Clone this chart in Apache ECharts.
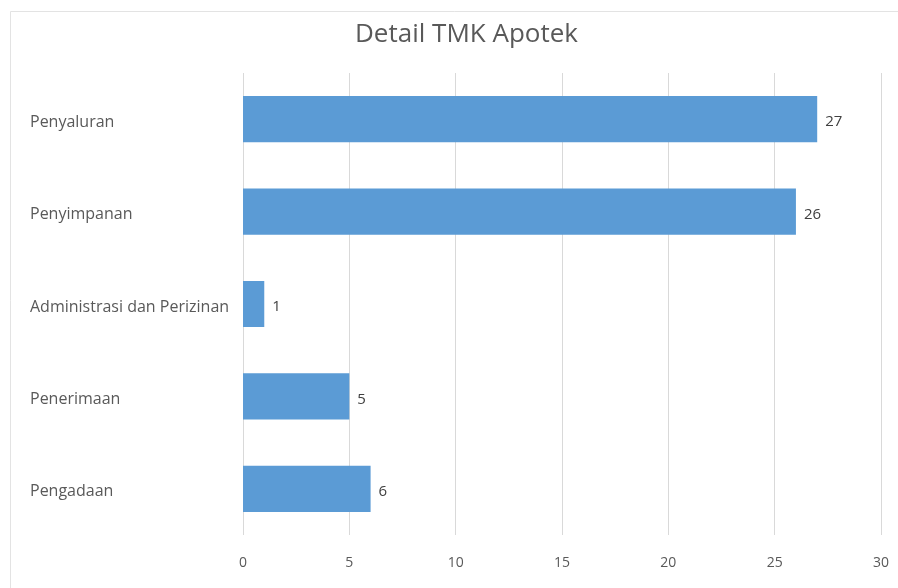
<!DOCTYPE html>
<html>
<head>
<meta charset="utf-8">
<script src="https://cdn.jsdelivr.net/npm/echarts@6/dist/echarts.min.js"></script>
<style>
  html, body { margin: 0; padding: 0; background: #fff; }
  #chart { width: 898px; height: 588px; }
</style>
</head>
<body>
<div id="chart"></div>
<script>
// categories from bottom to top (ECharts category y axis starts at bottom)
let categories = ['Pengadaan', 'Penerimaan', 'Administrasi dan Perizinan', 'Penyimpanan', 'Penyaluran'];
let values = [6, 5, 1, 26, 27];
let xTicks = [0, 5, 10, 15, 20, 25, 30];

var chart = echarts.init(document.getElementById('chart'));

var option = {
    backgroundColor: '#fff',
    textStyle: { fontFamily: 'Open Sans' },
    title: {
        text: 'Detail TMK Apotek',
        left: 350,
        top: 17,
        textStyle: { fontFamily: 'Open Sans', fontSize: 26, fontWeight: 'normal', color: '#595959' }
    },
    graphic: [{
        type: 'rect',
        shape: { x: 10.5, y: 11.5, width: 900, height: 600 },
        style: { fill: 'none', stroke: '#e3e3e3', lineWidth: 1 },
        silent: true
    }],
    grid: { left: 243, right: 17, top: 73, bottom: 53 },
    xAxis: {
        type: 'value',
        min: xTicks[0],
        max: xTicks[xTicks.length - 1],
        interval: 5,
        axisLine: { show: false },
        axisTick: { show: false },
        axisLabel: { color: '#595959', fontSize: 14, margin: 21 },
        splitLine: { lineStyle: { color: '#d9d9d9', width: 1 } }
    },
    yAxis: {
        type: 'category',
        data: categories,
        axisLine: { show: false },
        axisTick: { show: false },
        axisLabel: { color: '#595959', fontSize: 16, align: 'left', margin: 213, verticalAlign: 'top', lineHeight: 6 }
    },
    series: [{
        type: 'bar',
        data: values,
        barWidth: '50%',
        itemStyle: { color: '#5b9bd5' },
        label: { show: true, position: 'right', color: '#404040', fontSize: 15, distance: 8, offset: [0, 3] }
    }]
};

chart.setOption(option);
</script>
</body>
</html>
